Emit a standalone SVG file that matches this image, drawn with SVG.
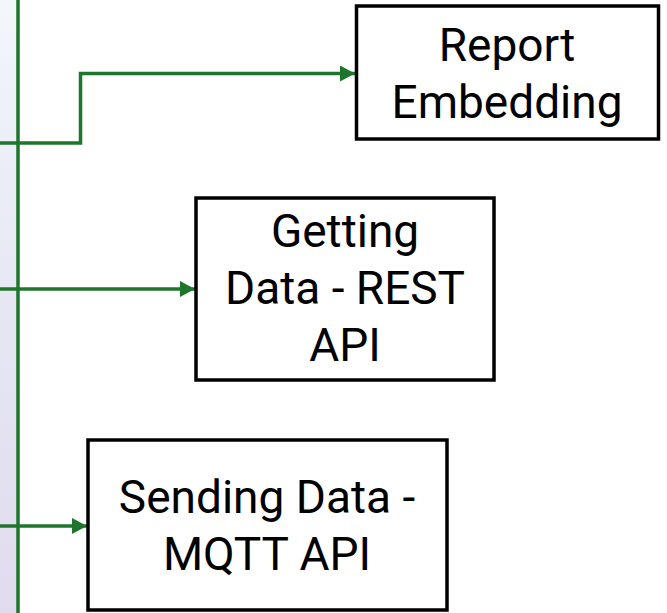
<svg xmlns="http://www.w3.org/2000/svg" width="667" height="613" viewBox="0 0 667 613">
<style>
.box{fill:#ffffff;stroke:#000000;stroke-width:3.5}
.lbl{font-family:Roboto,"Liberation Sans",sans-serif;font-size:46px;fill:#000000;text-anchor:middle}
.conn{fill:none;stroke:#1e762d;stroke-width:3.5}
</style>
<defs>
<linearGradient id="pg" x1="0" y1="0" x2="0" y2="1">
<stop offset="0" stop-color="#f3f6fb"/>
<stop offset="0.5" stop-color="#e6e7f3"/>
<stop offset="1" stop-color="#e1dbef"/>
</linearGradient>
<marker id="ah" markerUnits="userSpaceOnUse" markerWidth="16" markerHeight="16" refX="15" refY="8" orient="auto">
<path d="M0,0 L15,8 L0,16 Z" fill="#1e762d"/>
</marker>
</defs>
<rect x="0" y="0" width="17" height="613" fill="url(#pg)"/>
<g id="connectors">
<line class="conn" x1="18" y1="0" x2="18" y2="613"/>
<path class="conn" d="M0,143 H80.5 V73.5 H355" marker-end="url(#ah)"/>
<path class="conn" d="M0,289 H195" marker-end="url(#ah)"/>
<path class="conn" d="M0,526 H87" marker-end="url(#ah)"/>
</g>
<g id="report-embedding">
<rect class="box" x="356.5" y="6" width="302" height="133"/>
<text class="lbl" x="507" y="61">Report</text>
<text class="lbl" x="507" y="118">Embedding</text>
</g>
<g id="getting-data">
<rect class="box" x="196" y="198" width="298" height="182"/>
<text class="lbl" x="345" y="247">Getting</text>
<text class="lbl" x="345" y="304">Data - REST</text>
<text class="lbl" x="345" y="361">API</text>
</g>
<g id="sending-data">
<rect class="box" x="88" y="440" width="359" height="170"/>
<text class="lbl" x="267" y="513">Sending Data -</text>
<text class="lbl" x="267" y="570">MQTT API</text>
</g>
</svg>
